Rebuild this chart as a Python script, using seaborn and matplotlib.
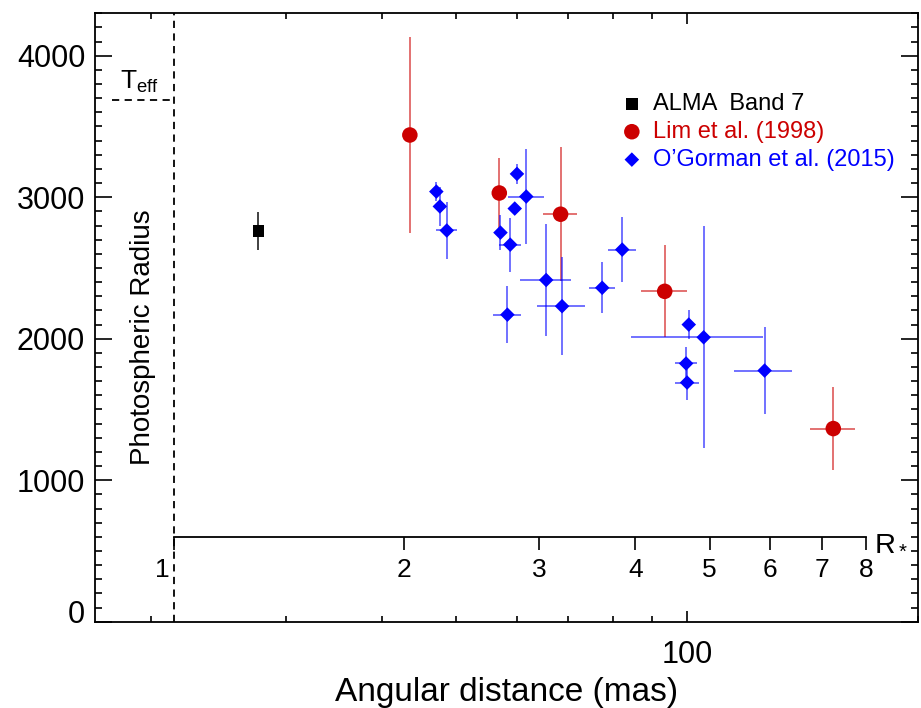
import numpy as np
import pandas as pd
import matplotlib.pyplot as plt
import seaborn as sns
from matplotlib.ticker import FixedLocator, NullLocator, NullFormatter, FuncFormatter, MultipleLocator, LogLocator
from matplotlib.transforms import ScaledTranslation

# stellar radius in mas, Teff and the height of the R* scale
R_STAR_MAS = 21.4
TEFF = 3690
R_AXIS_LEVEL = 600

# ALMA Band 7
alma_dist = [27.6]
alma_temp = [2760]
alma_dist_err = [0.0]
alma_temp_err = [135]

# Lim et al. (1998)
lim_dist = [43.5, 56.9, 68.4, 93.5, 155.1]
lim_temp = [3440, 3030, 2880, 2335, 1365]
lim_dist_err = [0.0, 0.0, 3.5, 6.5, 10.6]
lim_temp_err = [690, 250, 475, 325, 295]

# O'Gorman et al. (2015)
og_dist = [47.1, 47.6, 48.6, 57.1, 58.8, 60.0, 59.6, 61.7, 58.3,
           65.5, 68.7, 77.5, 82.3, 100.5, 105.1, 99.7, 100.0, 126.2]
og_temp = [3040, 2935, 2765, 2750, 2665, 3165, 2920, 3005, 2170,
           2415, 2230, 2360, 2630, 2100, 2010, 1825, 1690, 1775]
og_dist_err = [0.0, 0.0, 1.5, 1.0, 2.0, 0.0, 0.0, 3.3, 2.5,
               5.0, 5.0, 3.0, 3.5, 1.5, 20.5, 3.3, 3.5, 11.0]
og_temp_err = [70, 135, 200, 125, 190, 70, 40, 335, 200,
               395, 345, 180, 230, 100, 785, 115, 120, 310]

y_ticks = [0, 1000, 2000, 3000, 4000]
r_ticks = [1, 2, 3, 4, 5, 6, 7, 8]

sns.set_style('ticks')
plt.rcParams['font.family'] = ['Liberation Sans', 'DejaVu Sans']
plt.rcParams['mathtext.fontset'] = 'custom'
plt.rcParams['mathtext.rm'] = 'Liberation Sans'
plt.rcParams['mathtext.it'] = 'Liberation Sans:italic'
plt.rcParams['text.color'] = 'black'
plt.rcParams['axes.labelcolor'] = 'black'

sources = [
    ('ALMA  Band 7', alma_dist, alma_temp, alma_dist_err, alma_temp_err, 'black', 's', 70),
    ('Lim et al. (1998)', lim_dist, lim_temp, lim_dist_err, lim_temp_err, '#cc0000', 'o', 125),
    ("O\u2019Gorman et al. (2015)", og_dist, og_temp, og_dist_err, og_temp_err, '#0000ff', 'D', 55),
]

fig = plt.figure(figsize=(9.21, 7.08), dpi=100)
ax = fig.add_axes([0.1031, 0.1219, 0.8936, 0.8593])
ax.set_xscale('log')

for label, d, t, de, te, col, mk, size in sources:
    df = pd.DataFrame({'dist': d, 'temp': t, 'dist_err': de, 'temp_err': te})
    ax.errorbar(df['dist'], df['temp'], xerr=df['dist_err'], yerr=df['temp_err'],
                fmt='none', ecolor=col, elinewidth=1.3, alpha=0.6 if col != 'black' else 0.8,
                capsize=0, zorder=2)
    sns.scatterplot(data=df, x='dist', y='temp', color=col, marker=mk, s=size,
                    edgecolor='none', linewidth=0, label=label, ax=ax, zorder=3)

ax.set_xlim(16.9, 200)
ax.set_ylim(0, 4300)

# stellar surface and Teff markers
ax.axvline(R_STAR_MAS, color='black', lw=1.3, dashes=(4, 3), zorder=1)
ax.plot([17.8, R_STAR_MAS], [TEFF, TEFF], color='black', lw=1.3, dashes=(4, 3), zorder=1)
ax.text(19.3, 3720, r'$\mathrm{T}_{\mathrm{eff}}$', fontsize=19, ha='center', va='bottom')
ax.text(19.5, 2010, 'Photospheric Radius', fontsize=20, rotation=90, ha='center', va='center')

# axes styling
for sp in ax.spines.values():
    sp.set_linewidth(1.3)
    sp.set_color('black')
ax.yaxis.set_major_locator(FixedLocator(y_ticks))
ax.yaxis.set_minor_locator(MultipleLocator(100))
ax.xaxis.set_major_locator(LogLocator(base=10))
ax.xaxis.set_minor_locator(LogLocator(base=10, subs=np.arange(2, 10)))
ax.xaxis.set_major_formatter(FuncFormatter(lambda v, p: f'{v:g}'))
ax.xaxis.set_minor_formatter(NullFormatter())
ax.tick_params(axis='both', which='both', direction='in', top=True, right=True,
               colors='black', labelcolor='black', width=1.2, labelsize=22)
ax.tick_params(axis='y', which='major', length=12, pad=7)
ax.tick_params(axis='y', which='minor', length=5)
ax.tick_params(axis='x', which='major', length=8, pad=13)
ax.tick_params(axis='x', which='minor', length=4)
ax.set_xlabel('Angular distance (mas)', fontsize=24, labelpad=5, color='black')
ax.set_ylabel('')

# lift the "0" label off the bottom spine
zero_lbl = ax.yaxis.get_major_ticks()[0].label1
zero_lbl.set_transform(zero_lbl.get_transform() + ScaledTranslation(0, 0.10, fig.dpi_scale_trans))

# R* scale inside the axes
sec = ax.secondary_xaxis(R_AXIS_LEVEL / 4300,
                         functions=(lambda m: m / R_STAR_MAS, lambda r: r * R_STAR_MAS))
sec.xaxis.set_major_locator(FixedLocator(r_ticks))
sec.xaxis.set_minor_locator(NullLocator())
sec.xaxis.set_major_formatter(FuncFormatter(lambda v, p: f'{v:g}'))
sec.spines['bottom'].set_bounds(r_ticks[0], r_ticks[-1])
sec.spines['bottom'].set_linewidth(1.3)
sec.spines['bottom'].set_color('black')
sec.tick_params(axis='x', direction='out', length=9, width=1.2, labelsize=19, pad=6,
                colors='black', labelcolor='black')
one_lbl = sec.xaxis.get_major_ticks()[0].label1
one_lbl.set_transform(one_lbl.get_transform() + ScaledTranslation(-0.11, 0, fig.dpi_scale_trans))
ax.text(8.2 * R_STAR_MAS, 505, r'$\mathrm{R}_*$', fontsize=21, ha='left', va='baseline')

leg = ax.legend(loc='upper left', bbox_to_anchor=(0.638, 0.869), frameon=False, fontsize=17,
                handlelength=1.0, handletextpad=0.4, borderpad=0, borderaxespad=0,
                labelspacing=0.25)
for txt, src in zip(leg.get_texts(), sources):
    txt.set_color(src[5])

fig.savefig('out.png', dpi=100)
